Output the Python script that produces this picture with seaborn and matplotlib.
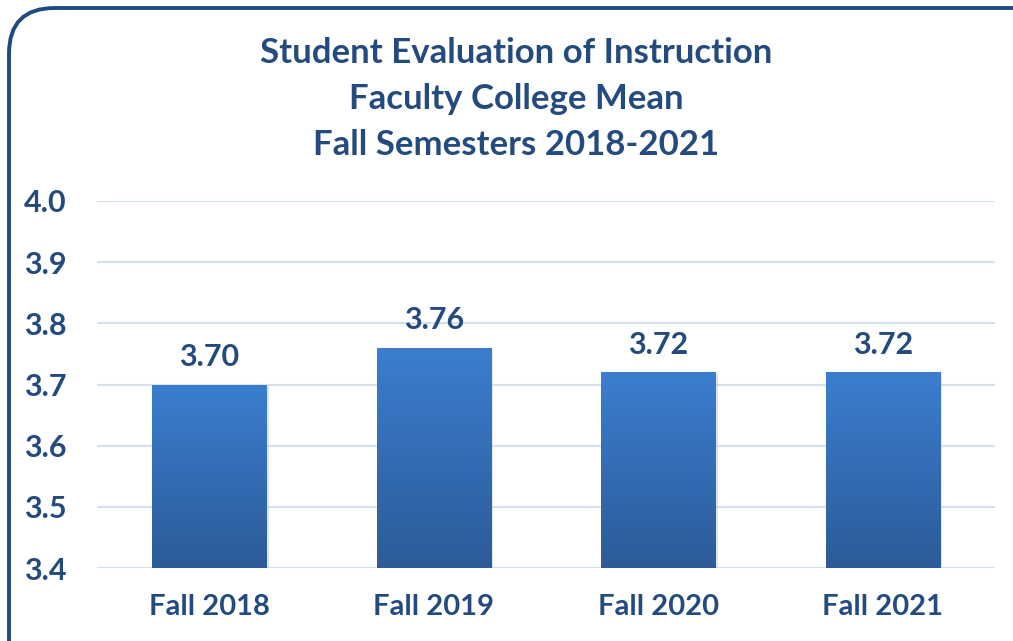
import numpy as np
import pandas as pd
import matplotlib
matplotlib.use("Agg")
import matplotlib.pyplot as plt
import seaborn as sns
from matplotlib.patches import FancyBboxPatch
from matplotlib.colors import LinearSegmentedColormap

semesters = ['Fall 2018', 'Fall 2019', 'Fall 2020', 'Fall 2021']
means = [3.70, 3.76, 3.72, 3.72]
value_labels = ['3.70', '3.76', '3.72', '3.72']
y_ticks = [3.4, 3.5, 3.6, 3.7, 3.8, 3.9, 4.0]

df = pd.DataFrame({'Semester': semesters, 'Mean': means})

sns.set_style('white')
plt.rcParams['font.family'] = ['Lato', 'DejaVu Sans']
navy = '#244b7f'
y_min, y_max = 3.4, 4.0

fig = plt.figure(figsize=(10.13, 6.41), dpi=100)
ax = fig.add_axes([97 / 1013, 1 - 568 / 641, 898 / 1013, 367 / 641])

sns.barplot(data=df, x='Semester', y='Mean', color='#3572bd', width=0.51,
            ax=ax, zorder=3)

# vertical gradient fill for each bar (over the visible part only)
cmap = LinearSegmentedColormap.from_list('bar', ['#2c5b98', '#3b7ecf'])
grad = np.linspace(0, 1, 256).reshape(-1, 1)
for p in list(ax.patches):
    x0, w, h = p.get_x(), p.get_width(), p.get_height()
    top = p.get_y() + h
    # soft shadow
    ax.bar(x0 + w / 2 + 0.01, top - y_min + 0.004, width=w,
           bottom=y_min - 0.006, color='#bdbdbd', alpha=0.45, zorder=2,
           linewidth=0)
    im = ax.imshow(grad, cmap=cmap, aspect='auto', origin='lower',
                   extent=[x0, x0 + w, y_min, top], zorder=4)
    im.set_clip_path(p)

ax.set_ylim(y_min, y_max)
ax.set_xlim(-0.5, 3.5)
ax.set_yticks(y_ticks)
ax.set_yticklabels([f'{t:.1f}' for t in y_ticks])
ax.yaxis.grid(True, color='#d3e0f0', linewidth=1.5, zorder=0)
ax.set_axisbelow(True)
for s in ax.spines.values():
    s.set_visible(False)
ax.set_xlabel('')
ax.set_ylabel('')
ax.tick_params(axis='both', length=0, colors=navy)
ax.tick_params(axis='y', pad=22, labelsize=22)
ax.tick_params(axis='x', pad=19, labelsize=21)
for lbl in ax.get_xticklabels() + ax.get_yticklabels():
    lbl.set_fontweight('bold')

for i, v in enumerate(means):
    ax.text(i, v + 0.022, value_labels[i], ha='center', va='bottom',
            fontsize=22, fontweight='bold', color=navy, zorder=5)

fig.text(516 / 1013, 1 - 99 / 641,
         'Student Evaluation of Instruction\nFaculty College Mean\nFall Semesters 2018-2021',
         ha='center', va='center', fontsize=25, fontweight='bold', color=navy,
         linespacing=1.53)

border = FancyBboxPatch((9 / 1013, -0.2), 1.2, 1 - 8 / 641 + 0.2,
                        boxstyle='round,pad=0,rounding_size=0.045',
                        transform=fig.transFigure, fill=False,
                        edgecolor='#1f4a80', linewidth=2.8,
                        mutation_aspect=1013 / 641)
fig.patches.append(border)

fig.savefig('out.png', dpi=100)
